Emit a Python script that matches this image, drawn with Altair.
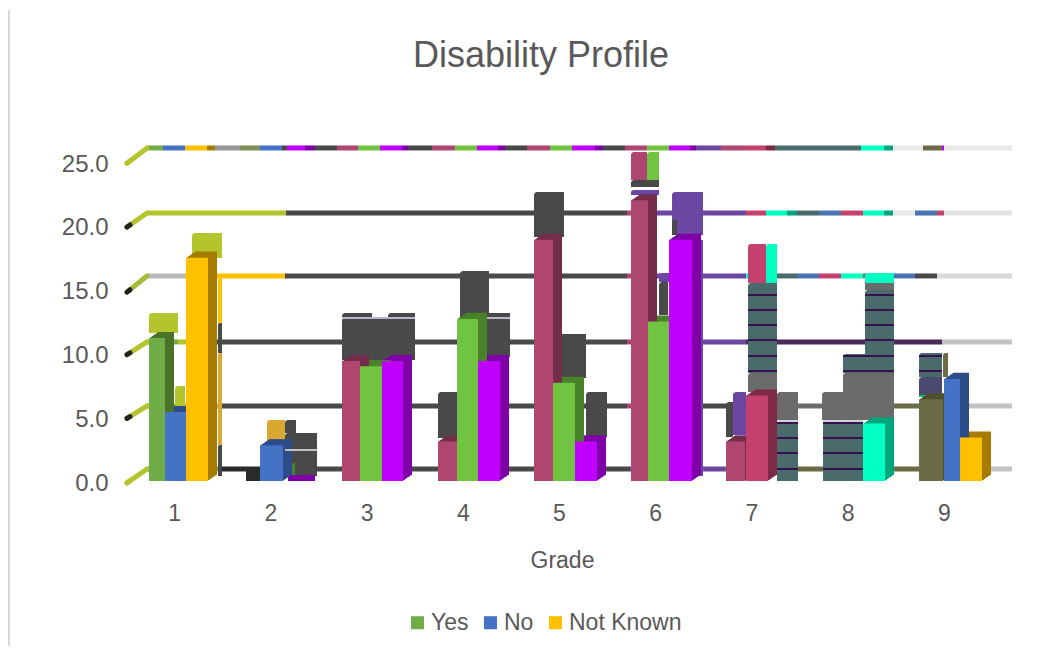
import altair as alt
import pandas as pd

FONT = "Liberation Sans"
TXT = "#595959"
TITLE = ["Disability Profile"]
SERIES = ["Yes", "No", "Not Known"]
SERIES_COL = ["#70AD47", "#4472C4", "#FFC000"]
GRADES = [1, 2, 3, 4, 5, 6, 7, 8, 9]
Y_TICKS = [0, 5, 10, 15, 20, 25]

G, B, Y, CR, LG, MG, CP, MT = "#70AD47", "#4472C4", "#FFC000", "#AE4670", "#70C442", "#C000FF", "#C4406E", "#00FFC0"
OL, VI, DK, TE, GY, LM, GO = "#6B6B45", "#6B47A3", "#494949", "#4A6B6B", "#6B6B6B", "#B4C42C", "#DAA832"
SHADE = {G: "#4A7229", B: "#2C4D8A", Y: "#A67C00", CR: "#732D4A", LG: "#4A8229", MG: "#7E00A6",
         CP: "#7E2A47", MT: "#00A67D", OL: "#4F4F30", TE: "#3E5A5A", VI: "#4A2F75"}

# Read-off rulers, converted to axis units below.
def gx(p):
    return (p - 126) / 96.22 + 0.5

def vy(p):
    return (481 - p) / 12.76

# Front bars: left, right, value, colour
BAR_L = [149, 165, 186, 260, 342, 360, 382, 438, 457, 478, 534, 553, 575, 631, 648, 669, 726, 746, 777, 823, 863, 919, 944, 960]
BAR_R = [165, 186, 208, 283, 360, 382, 403, 457, 478, 500, 553, 575, 597, 648, 669, 692, 745, 768, 798, 863, 885, 943, 960, 982]
BAR_V = [11.2, 5.4, 17.5, 2.8, 9.4, 9.0, 9.4, 3.1, 12.7, 9.4, 18.9, 7.7, 3.1, 22.0, 12.5, 18.9, 3.1, 6.7, 4.6, 4.6, 4.5, 6.4, 8.0, 3.4]
BAR_C = [G, B, Y, B, CR, LG, MG, CR, LG, MG, CR, LG, MG, CR, LG, MG, CR, CP, TE, TE, MT, OL, B, Y]

# Stray blocks behind the bars: left, right, top, bottom, colour
GH_L = [149, 175, 192, 186, 218, 218, 218, 218, 267, 285, 285, 246, 342, 342, 388, 438, 460, 487,
        534, 560, 586, 631, 647, 631, 631, 672, 659, 659, 672, 698, 733, 726, 748, 748, 766, 748, 777,
        822, 843, 843, 865, 865, 865, 919, 919, 943, 287, 288]
GH_R = [178, 185, 222, 192, 222, 222, 222, 222, 285, 296, 317, 260, 415, 372, 415, 457, 489, 510,
        564, 586, 607, 647, 659, 659, 659, 703, 670, 668, 677, 703, 746, 733, 777, 777, 777, 766, 798,
        843, 894, 865, 894, 894, 894, 942, 942, 948, 295, 315]
GH_T = [313, 386, 233, 344, 278, 323, 353, 445, 420, 420, 433, 468, 318, 313, 313, 392, 271, 313,
        192, 334, 392, 152, 152, 180, 190, 192, 273, 282, 220, 240, 392, 402, 283, 373, 244, 244, 392,
        392, 373, 354, 290, 280, 273, 353, 377, 353, 463, 475]
GH_B = [333, 410, 258, 406, 323, 353, 445, 476, 443, 433, 476, 481, 360, 319, 319, 438, 317, 357,
        237, 378, 437, 180, 180, 187, 195, 235, 282, 315, 235, 476, 435, 437, 373, 392, 283, 283, 420,
        420, 420, 373, 373, 290, 283, 377, 395, 377, 477, 481]
GH_C = [LM, LM, LM, GO, Y, DK, GO, DK, GO, DK, DK, "#2A2A2A", DK, DK, DK, DK, DK, DK,
        DK, DK, DK, CR, LG, DK, VI, VI, VI, DK, DK, VI, VI, DK, TE, GY, MT, CP, GY,
        GY, GY, TE, TE, GY, MT, TE, "#4A4A70", OL, "#4A8229", "#7E00A6"]

# Thin stripes: left, right, level, colour
ST_L = [748]*6 + [865]*6 + [843]*2 + [777]*4 + [823]*4 + [919]*2 + [342, 388, 487, 285, 919, 777, 823]
ST_R = [777]*6 + [894]*6 + [865]*2 + [798]*4 + [863]*4 + [942]*2 + [415, 415, 510, 317, 942, 798, 863]
ST_Y = [295, 310, 325, 340, 356, 371]*2 + [356, 371] + [423, 438, 453, 469]*2 + [356, 371] + [318, 318, 318, 450, 396, 421, 421]
ST_C = ["#3A1050"]*24 + ["#B8B8C8", "#B8B8C8", "#B8B8C8", "#C0C0C0", "#00C060", "#C8D8D8", "#C8D8D8"]

# Back-wall grid: wall level, then segment ends and colours (each line starts at the wall's left edge)
WALL = [26.1, 21.0, 16.07, 10.9, 5.88, 0.94]
SEG_END = [
    [163, 185, 207, 215, 240, 260, 282, 287, 305, 315, 337, 358, 380, 402, 408, 432, 455, 477, 498, 505, 527, 550, 572, 595, 603, 625, 647, 669, 690, 696, 721, 745, 766, 775, 861, 884, 893, 923, 942, 944, 1012],
    [286, 627, 632, 746, 766, 787, 797, 819, 841, 863, 884, 893, 915, 937, 944, 1012],
    [185, 192, 285, 627, 632, 746, 777, 797, 819, 841, 863, 893, 915, 937, 943, 1012],
    [178, 192, 285, 627, 632, 746, 942, 1012],
    [185, 222, 285, 627, 632, 727, 822, 968, 1012],
    [222, 317, 630, 725, 798, 823, 968, 1012],
]
SEG_COL = [
    [G, B, Y, "#A67C00", "#999999", "#7A8F5A", B, DK, MG, "#7E00A6", DK, CR, LG, MG, "#7E00A6", DK, CR, LG, MG, "#7E00A6", DK, CR, LG, MG, "#7E00A6", DK, CR, LG, MG, "#7E00A6", VI, CR, CP, "#7A2A47", TE, MT, "#00A67D", "#E8E8E8", OL, MG, "#E8E8E8"],
    [LM, DK, CR, VI, CP, MT, "#00A67D", TE, "#4A72B5", CP, MT, "#00A67D", "#E8E8E8", "#4A72B5", CP, "#E4E4E4"],
    ["#B8B8B8", Y, Y, DK, CR, VI, MT, TE, "#4A72B5", CP, MT, "#777777", "#4A72B5", DK, "#D8D8D8", "#D8D8D8"],
    [G, LM, DK, DK, CR, VI, "#4A2A5A", "#C4C4C4"],
    [G, GO, DK, DK, CR, DK, GY, OL, "#C4C4C4"],
    [G, "#2A2A2A", DK, VI, OL, OL, OL, "#C4C4C4"],
]

# Left-wall diagonals: front level, back level
DIAG_FRONT = [24.9, 19.9, 14.8, 9.9, 4.9, -0.15]
DIAG_COL = [LM, LM, "#A9B93A", LM, LM, LM]
DIAG_STUB = [LM, "#222222", "#222222", "#222222", "#222222", LM]

bars = pd.DataFrame({"x": [gx(p) for p in BAR_L], "x2": [gx(p) for p in BAR_R], "y": BAR_V, "z": [0.0]*len(BAR_V),
                     "c": BAR_C, "s": [SHADE[c] for c in BAR_C]})
solid = bars[bars.c != TE]
ghosts = pd.DataFrame({"x": [gx(p) for p in GH_L], "x2": [gx(p) for p in GH_R],
                       "y": [vy(p) for p in GH_T], "y2": [vy(p) for p in GH_B], "c": GH_C})
stripes = pd.DataFrame({"x": [gx(p) for p in ST_L], "x2": [gx(p) for p in ST_R],
                        "y": [vy(p) for p in ST_Y], "c": ST_C})
rows = []
for lvl, ends, cols in zip(WALL, SEG_END, SEG_COL):
    start = 147
    for e, c in zip(ends, cols):
        rows.append({"x": gx(start), "x2": gx(e), "y": lvl, "c": c})
        start = e
grid = pd.DataFrame(rows)
diag = pd.DataFrame({"x": [gx(127)]*6, "x2": [gx(147)]*6, "y": DIAG_FRONT, "y2": WALL, "c": DIAG_COL})
stub = pd.DataFrame({"x": [gx(127)]*6, "x2": [gx(130)]*6, "y": DIAG_FRONT,
                     "y2": [f + (w - f) * 0.15 for f, w in zip(DIAG_FRONT, WALL)], "c": DIAG_STUB})
legend_df = pd.DataFrame({"series": SERIES, "x": [1]*3, "y": [0]*3})

XS = alt.Scale(domain=[0.5, 9.5], nice=False, zero=False)
YS = alt.Scale(domain=[0, 25], nice=False, zero=False)
AX = alt.Axis(values=GRADES, format="d", title="Grade", grid=False, ticks=False, domain=False,
              labelFontSize=23, labelColor=TXT, labelFont=FONT, labelPadding=21,
              titleFontSize=23, titleColor=TXT, titleFont=FONT, titleFontWeight="normal",
              titleX=436, titleY=68, labelAngle=0)
AY = alt.Axis(values=Y_TICKS, format=".1f", title=None, grid=False, ticks=False, domain=False,
              labelFontSize=24, labelColor=TXT, labelFont=FONT, labelPadding=18, labelOffset=2)
X = alt.X("x:Q", scale=XS, axis=AX)
Yc = alt.Y("y:Q", scale=YS, axis=AY)

base = alt.Chart(legend_df).mark_square(size=0, opacity=1).encode(
    x=X, y=Yc,
    color=alt.Color("series:N", scale=alt.Scale(domain=SERIES, range=SERIES_COL), legend=alt.Legend(
        title=None, orient="none", direction="horizontal", legendX=280, legendY=449,
        symbolType="square", symbolSize=170, symbolOpacity=1, labelFontSize=23, labelColor=TXT, labelFont=FONT,
        columnPadding=10, labelOffset=2, symbolStrokeWidth=0)),
)

def rule_layer(df, width):
    return alt.Chart(df).mark_rule(strokeWidth=width).encode(
        x=X, x2="x2:Q", y=Yc, stroke=alt.Stroke("c:N", scale=None))

def diag_layer(df, width):
    return alt.Chart(df).mark_rule(strokeWidth=width, strokeCap="round").encode(
        x=X, x2="x2:Q", y=Yc, y2="y2:Q", stroke=alt.Stroke("c:N", scale=None))

border = alt.Chart(pd.DataFrame({"a": [0]})).mark_rule(color="#D9D9D9", strokeWidth=2).encode(
    x=alt.value(-117), y=alt.value(-152), y2=alt.value(484))

title = alt.Chart(pd.DataFrame({"t": TITLE})).mark_text(
    fontSize=36, font=FONT, color=TXT, align="center", baseline="middle").encode(
    text="t:N", x=alt.value(415), y=alt.value(-106))

layers = [base, border, title, rule_layer(grid, 5), diag_layer(diag, 5), diag_layer(stub, 5)]
layers.append(alt.Chart(ghosts).mark_bar(cornerRadiusTopLeft=3).encode(
    x=X, x2="x2:Q", y=Yc, y2="y2:Q", fill=alt.Fill("c:N", scale=None)))
layers.append(rule_layer(stripes, 2))

for i in [1, 2, 3, 4, 5, 6, 7, 8, 9]:
    dx, dy = i, -i * 0.68
    layers.append(alt.Chart(solid).mark_bar(xOffset=dx, x2Offset=dx, yOffset=dy, y2Offset=dy).encode(
        x=X, x2="x2:Q", y=Yc, y2="z:Q", fill=alt.Fill("s:N", scale=None)))
layers.append(alt.Chart(bars).mark_bar().encode(
    x=X, x2="x2:Q", y=Yc, y2="z:Q", fill=alt.Fill("c:N", scale=None)))
layers.append(rule_layer(stripes[stripes.y < 4.8], 2))

chart = alt.layer(*layers).properties(
    width=866, height=319,
    padding={"left": 118, "top": 154, "right": 60, "bottom": 165},
    autosize=alt.AutoSizeParams(type="none"),
).configure_view(stroke=None)

chart.save("out.html", embed_options={"renderer": "svg", "actions": False})
